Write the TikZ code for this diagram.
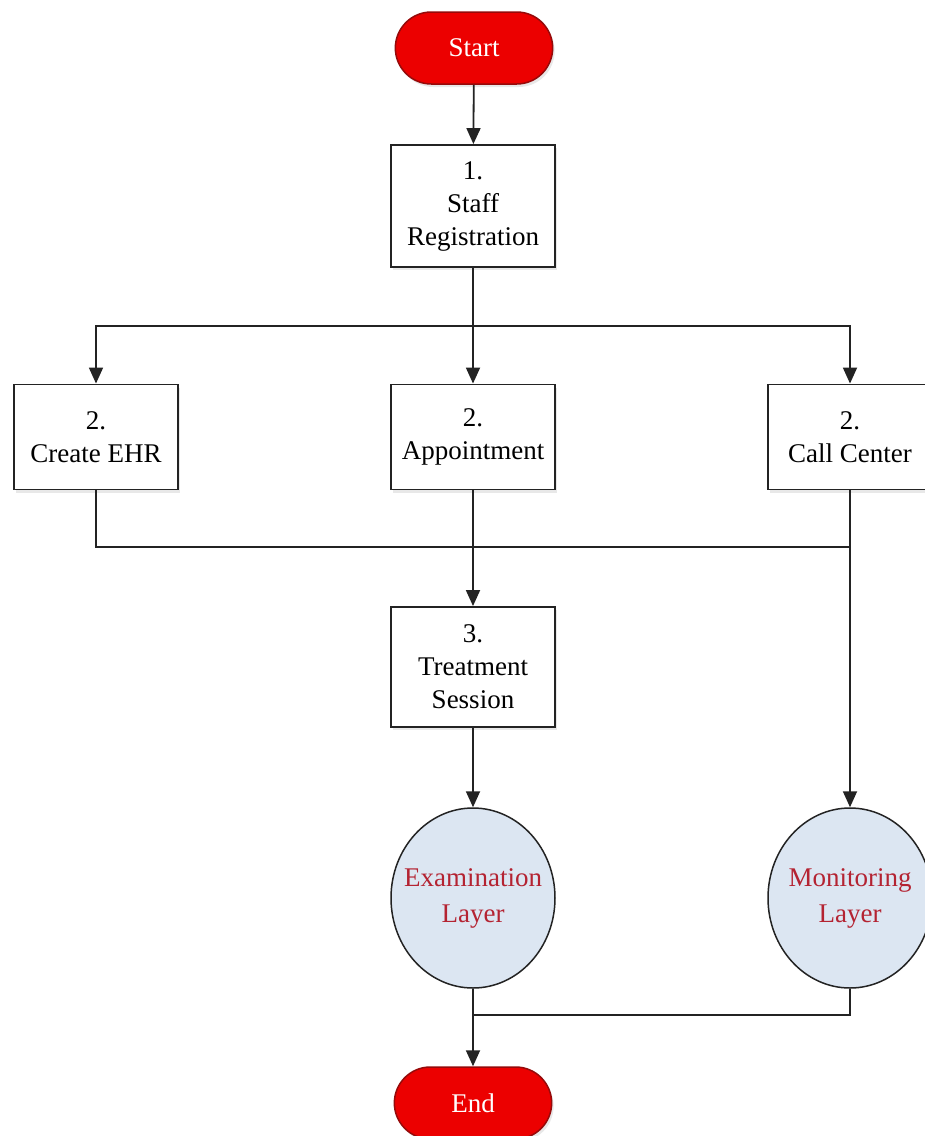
\documentclass[tikz,border=0pt]{standalone}
\usepackage{fontspec}
\setmainfont{Liberation Serif}
\usetikzlibrary{shapes.misc,shapes.geometric,arrows.meta,shadows}
\definecolor{termfill}{RGB}{236,0,0}
\definecolor{termline}{RGB}{150,10,10}
\definecolor{layerfill}{RGB}{220,230,242}
\definecolor{layertext}{RGB}{180,35,50}
\definecolor{wire}{RGB}{35,35,35}
\begin{document}
\begin{tikzpicture}[x=1pt,y=-1pt,
  every node/.style={font=\fontsize{27}{33}\selectfont, align=center},
  soft/.style={drop shadow={opacity=0.18, shadow xshift=2pt, shadow yshift=-3pt}},
  terminal/.style={rounded rectangle, draw=termline, line width=1.5pt, fill=termfill,
    text=white, minimum width=164pt, minimum height=72pt, soft},
  process/.style={rectangle, draw=wire, line width=1.9pt, fill=white,
    minimum width=164pt, inner sep=2pt, soft},
  layer/.style={ellipse, draw=wire, line width=1.5pt, fill=layerfill,
    text=layertext, minimum width=164pt, minimum height=180pt,
    inner xsep=-13pt, inner ysep=0pt,
    font=\fontsize{27}{36}\selectfont},
  wireline/.style={draw=wire, line width=1.8pt},
  arr/.style={wireline, -{Triangle[length=16pt,width=14pt]}}]
\useasboundingbox (0,0) rectangle (925,1136);
\clip (0,0) rectangle (925,1136);
\fill[white] (0,0) rectangle (925,1136);

\node[terminal] (start) at (474,48) {Start};
\node[process, minimum height=122pt] (reg) at (473,206) {1.\\Staff\\Registration};
\node[process, minimum height=105pt] (ehr) at (96,437) {2.\\Create EHR};
\node[process, minimum height=105pt] (app) at (473,437) {2.\\Appointment};
\node[process, minimum height=105pt] (call) at (850,437) {2.\\Call Center};
\node[process, minimum height=120pt] (treat) at (473,667) {3.\\Treatment\\Session};
\node[layer] (exam) at (473,898) {Examination\\Layer};
\node[layer] (mon) at (850,898) {Monitoring\\Layer};
\node[terminal] (end) at (473,1103) {End};

\coordinate (split) at (473,326);
\coordinate (merge) at (473,547);
\coordinate (join) at (473,1015);

\draw[arr] (start) -- (reg);
\draw[wireline] (reg.south) -- (split);
\draw[arr] (split) -| (ehr.north);
\draw[arr] (split) -- (app.north);
\draw[arr] (split) -| (call.north);
\draw[wireline] (ehr.south) |- (call.south |- merge);
\draw[arr] (app.south) -- (treat.north);
\draw[arr] (call.south) -- (mon.north);
\draw[arr] (treat.south) -- (exam.north);
\draw[arr] (exam.south) -- (end.north);
\draw[wireline] (mon.south) |- (join);
\end{tikzpicture}
\end{document}
